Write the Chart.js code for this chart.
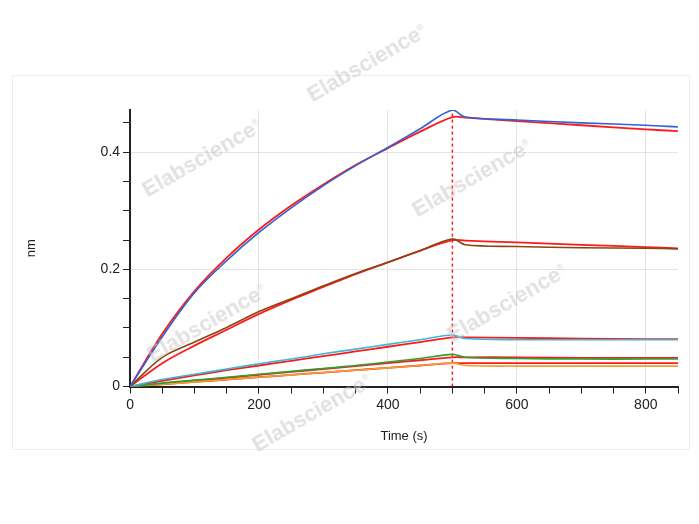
<!DOCTYPE html>
<html><head><meta charset="utf-8">
<script src="https://cdn.jsdelivr.net/npm/chart.js@4"></script>
<style>
body{margin:0;background:#fff;width:699px;height:524px;overflow:hidden;font-family:Arial,"Liberation Sans",sans-serif}
#frame{position:absolute;left:12px;top:75px;width:676px;height:373px;border:1px solid #eee;background:#fff}
#wrap{position:absolute;left:12px;top:75px;width:676px;height:373px}
.wm{position:absolute;color:rgba(200,200,200,0.55);font-weight:bold;font-size:22px;transform:rotate(-30deg);white-space:nowrap;pointer-events:none}
</style></head><body>
<div id="frame"></div>
<div id="wrap"><canvas id="c" width="676" height="373"></canvas></div>
<div class="wm" style="left:300px;top:50px">Elabscience<sup style="font-size:9px">®</sup></div>
<div class="wm" style="left:135px;top:145px">Elabscience<sup style="font-size:9px">®</sup></div>
<div class="wm" style="left:405px;top:165px">Elabscience<sup style="font-size:9px">®</sup></div>
<div class="wm" style="left:140px;top:310px">Elabscience<sup style="font-size:9px">®</sup></div>
<div class="wm" style="left:440px;top:290px">Elabscience<sup style="font-size:9px">®</sup></div>
<div class="wm" style="left:245px;top:400px">Elabscience<sup style="font-size:9px">®</sup></div>
<script>
// sensorgram traces (time in s, response in nm)
const assocTime = [0, 50, 100, 150, 200, 250, 300, 350, 400, 450, 500];
const dissocTime = [500, 520, 600, 700, 800, 850];

const blueAssoc = [0, 0.085, 0.160, 0.215, 0.263, 0.305, 0.343, 0.377, 0.408, 0.440, 0.472];
const blueDissoc = [0.472, 0.460, 0.455, 0.450, 0.446, 0.443];
const brownAssoc = [0, 0.050, 0.076, 0.101, 0.128, 0.150, 0.172, 0.193, 0.212, 0.232, 0.252];
const brownDissoc = [0.252, 0.242, 0.239, 0.237, 0.236, 0.235];
const cyanAssoc = [0, 0.012, 0.021, 0.030, 0.039, 0.047, 0.056, 0.064, 0.072, 0.080, 0.088];
const cyanDissoc = [0.088, 0.082, 0.080, 0.080, 0.080, 0.080];
const greenAssoc = [0, 0.006, 0.011, 0.016, 0.021, 0.026, 0.031, 0.036, 0.042, 0.048, 0.055];
const greenDissoc = [0.055, 0.050, 0.048, 0.047, 0.047, 0.047];
const orangeAssoc = [0, 0.004, 0.008, 0.012, 0.016, 0.020, 0.024, 0.028, 0.032, 0.036, 0.040];
const orangeDissoc = [0.040, 0.036, 0.035, 0.035, 0.035, 0.035];

const fitAssoc = [
  [0, 0.090, 0.163, 0.220, 0.268, 0.309, 0.345, 0.378, 0.407, 0.435, 0.460],
  [0, 0.040, 0.070, 0.097, 0.124, 0.148, 0.170, 0.192, 0.212, 0.232, 0.250],
  [0, 0.010, 0.019, 0.028, 0.036, 0.044, 0.052, 0.060, 0.068, 0.076, 0.084],
  [0, 0.005, 0.010, 0.015, 0.020, 0.025, 0.030, 0.035, 0.040, 0.045, 0.050],
  [0, 0.004, 0.008, 0.012, 0.016, 0.020, 0.024, 0.028, 0.032, 0.036, 0.040]
];
const fitDissoc = [
  [0.460, 0.459, 0.453, 0.446, 0.439, 0.436],
  [0.250, 0.249, 0.246, 0.242, 0.238, 0.236],
  [0.084, 0.084, 0.083, 0.082, 0.081, 0.081],
  [0.050, 0.050, 0.050, 0.049, 0.049, 0.049],
  [0.040, 0.040, 0.040, 0.040, 0.040, 0.040]
];
const traceColors = ["#2f62d8", "#8b4513", "#3ab8d6", "#2fa02f", "#f0a030"];

function pts(xs, ys) { return xs.map((x, i) => ({ x: x, y: ys[i] })); }
function line(data, color, w) {
  return { data: data, borderColor: color, borderWidth: w, pointRadius: 0, tension: 0.35, fill: false };
}

const datasets = [];
const raw = [[blueAssoc, blueDissoc], [brownAssoc, brownDissoc], [cyanAssoc, cyanDissoc], [greenAssoc, greenDissoc], [orangeAssoc, orangeDissoc]];
raw.forEach((r, i) => {
  datasets.push(line(pts(assocTime, r[0]).concat(pts(dissocTime, r[1]).slice(1)), traceColors[i], 1.6));
});
fitAssoc.forEach((f, i) => {
  datasets.push(line(pts(assocTime, f).concat(pts(dissocTime, fitDissoc[i]).slice(1)), "#ff1a1a", 1.8));
});
datasets.push({ data: [{ x: 500, y: 0 }, { x: 500, y: 0.472 }], borderColor: "#ff1a1a", borderWidth: 1.5, borderDash: [3, 3], pointRadius: 0 });

const major = (v, step) => Math.abs(v / step - Math.round(v / step)) < 1e-6;

new Chart(document.getElementById("c"), {
  type: "line",
  data: { datasets: datasets },
  options: {
    responsive: false, animation: false,
    layout: { padding: { left: 8, right: 10, top: 35, bottom: 2 } },
    plugins: { legend: { display: false }, tooltip: { enabled: false } },
    scales: {
      x: {
        type: "linear", min: 0, max: 850,
        ticks: { stepSize: 50, color: "#222", font: { size: 14 }, maxRotation: 0, autoSkip: false,
          callback: v => major(v, 200) ? v : "" },
        grid: { color: c => major(c.tick.value, 200) && c.tick.value > 0 ? "#e4e4e4" : "rgba(0,0,0,0)",
          tickColor: "#222", tickLength: 7 },
        border: { color: "#222", width: 2 },
        title: { display: true, text: "Time (s)", color: "#222", font: { size: 13 }, padding: { top: 12, bottom: 2 } }
      },
      y: {
        min: 0, max: 0.472,
        afterBuildTicks: a => { a.ticks = [0, 0.05, 0.1, 0.15, 0.2, 0.25, 0.3, 0.35, 0.4, 0.45].map(v => ({ value: v })); },
        ticks: { color: "#222", font: { size: 14 }, autoSkip: false,
          callback: v => major(v, 0.2) ? (v === 0 ? "0" : v.toFixed(1)) : "" },
        grid: { color: c => major(c.tick.value, 0.2) && c.tick.value > 0 ? "#e4e4e4" : "rgba(0,0,0,0)",
          tickColor: "#222", tickLength: 7 },
        border: { color: "#222", width: 2 },
        title: { display: true, text: "nm", color: "#222", font: { size: 13 }, padding: { bottom: 58 } }
      }
    }
  }
});
</script>
</body></html>
